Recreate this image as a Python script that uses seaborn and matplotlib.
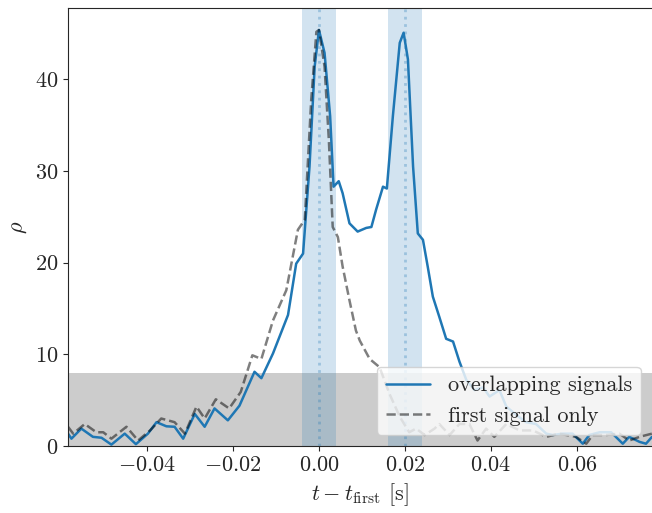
import numpy as np
import pandas as pd
import matplotlib
matplotlib.use("Agg")
import matplotlib.pyplot as plt
import seaborn as sns

# overlapping signals
t_overlap = [-0.0584, -0.0576, -0.0553, -0.0526, -0.0506, -0.0483, -0.0452, -0.0426,
             -0.0398, -0.0378, -0.0355, -0.0336, -0.0316, -0.0289, -0.0266, -0.0243,
             -0.0212, -0.0185, -0.0150, -0.0134, -0.0107, -0.0072, -0.0053, -0.0037,
             -0.0022, -0.0010, 0.0000, 0.0013, 0.0026, 0.0034, 0.0046, 0.0055,
             0.0071, 0.0090, 0.0110, 0.0122, 0.0133, 0.0149, 0.0158, 0.0172,
             0.0188, 0.0197, 0.0207, 0.0219, 0.0230, 0.0242, 0.0253, 0.0265,
             0.0280, 0.0296, 0.0312, 0.0327, 0.0343, 0.0362, 0.0382, 0.0397,
             0.0420, 0.0436, 0.0459, 0.0482, 0.0505, 0.0529, 0.0544, 0.0567,
             0.0590, 0.0614, 0.0629, 0.0653, 0.0680, 0.0707, 0.0722, 0.0746,
             0.0761, 0.0775]
rho_overlap = [1.35, 0.8, 1.9, 1.0, 0.9, 0.15, 1.35, 0.2,
               1.35, 2.6, 2.15, 2.1, 0.8, 3.5, 2.1, 4.1,
               2.8, 4.4, 8.1, 7.4, 10.1, 14.3, 19.9, 21.0,
               30.5, 41.4, 45.4, 42.9, 36.0, 28.3, 28.9, 27.6,
               24.3, 23.4, 23.8, 23.9, 25.8, 28.3, 28.1, 36.0,
               44.0, 45.1, 42.2, 30.5, 23.2, 22.5, 19.6, 16.3,
               14.1, 11.7, 11.4, 9.2, 7.2, 6.1, 6.4, 5.4,
               6.1, 4.3, 3.4, 2.6, 2.4, 1.35, 1.2, 1.35,
               1.35, 0.25, 1.2, 1.5, 1.5, 0.25, 1.0, 0.45,
               0.25, 1.0]

# first signal only
t_first = [-0.0584, -0.0572, -0.0545, -0.0518, -0.0502, -0.0483, -0.0448, -0.0421,
           -0.0393, -0.0367, -0.0336, -0.0312, -0.0285, -0.0266, -0.0240, -0.0209,
           -0.0182, -0.0155, -0.0134, -0.0107, -0.0076, -0.0049, -0.0033, -0.0018,
           -0.0006, 0.0000, 0.0013, 0.0023, 0.0032, 0.0044, 0.0055, 0.0071,
           0.0086, 0.0095, 0.0118, 0.0141, 0.0164, 0.0188, 0.0210, 0.0226,
           0.0246, 0.0269, 0.0280, 0.0304, 0.0327, 0.0350, 0.0369, 0.0389,
           0.0408, 0.0436, 0.0467, 0.0498, 0.0529, 0.0559, 0.0598, 0.0622,
           0.0637, 0.0668, 0.0699, 0.0722, 0.0746, 0.0775]
rho_first = [2.1, 1.35, 2.4, 1.5, 1.5, 0.8, 2.1, 0.6,
             1.7, 3.0, 2.6, 1.35, 4.3, 3.0, 5.1, 4.1,
             5.9, 9.9, 9.5, 13.7, 17.0, 23.6, 24.7, 37.8,
             45.2, 45.4, 41.4, 33.4, 23.9, 22.8, 19.6, 15.9,
             12.6, 11.5, 9.5, 8.6, 5.7, 3.2, 1.5, 1.9,
             1.2, 1.9, 2.4, 1.2, 2.4, 2.4, 0.6, 1.9,
             1.0, 2.4, 1.7, 1.7, 1.0, 1.35, 1.0, 0.25,
             1.2, 1.2, 1.35, 0.6, 1.0, 1.35]

signal_times = [0.0, 0.02]
window = 0.004
threshold = 8
xticks = [-0.04, -0.02, 0.0, 0.02, 0.04, 0.06]
yticks = [0, 10, 20, 30, 40]

sns.set_style("ticks")
plt.rcParams["font.family"] = ["cmr10", "DejaVu Serif"]
plt.rcParams["mathtext.fontset"] = "cm"
plt.rcParams["axes.formatter.use_mathtext"] = True
plt.rcParams["font.size"] = 16
plt.rcParams["axes.unicode_minus"] = True

df_overlap = pd.DataFrame({"t": t_overlap, "rho": rho_overlap})
df_first = pd.DataFrame({"t": t_first, "rho": rho_first})

fig = plt.figure(figsize=(6.52, 5.13), dpi=100)
ax = fig.add_axes([0.1043, 0.1306, 0.8957, 0.8538])

sns.lineplot(data=df_overlap, x="t", y="rho", ax=ax, color="#1f77b4", lw=1.8,
             label="overlapping signals")
sns.lineplot(data=df_first, x="t", y="rho", ax=ax, color="k", alpha=0.5, lw=1.8,
             linestyle="--", label="first signal only")

ax.axhspan(0, threshold, color="k", alpha=0.2, lw=0)
for ts in signal_times:
    ax.axvspan(ts - window, ts + window, color="#1f77b4", alpha=0.2, lw=0)
    ax.axvline(ts, color="#1f77b4", alpha=0.3, ls=":", lw=2)

ax.set_xlim(-0.0584, 0.0775)
ax.set_ylim(0, 47.8)
ax.set_xticks(xticks)
ax.set_yticks(yticks)
ax.set_xticklabels([f"${v:.2f}$" for v in xticks])
ax.spines["right"].set_visible(False)
ax.tick_params(labelsize=16)
ax.set_xlabel(r"$t - t_{\rm first}$ [s]", fontsize=16)
ax.set_ylabel(r"$\rho$", fontsize=16)
ax.legend(loc="lower right", fontsize=16)

plt.savefig("out.png", dpi=100)
